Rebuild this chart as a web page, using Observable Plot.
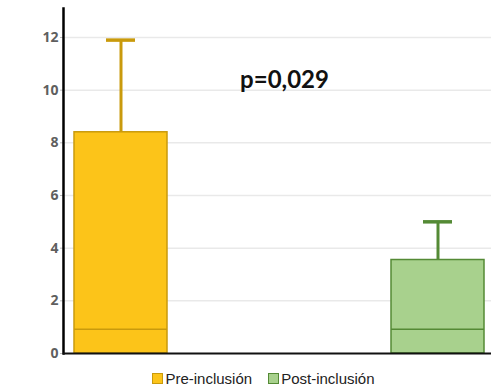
<!DOCTYPE html>
<html>
<head>
<meta charset="utf-8">
<script src="https://cdn.jsdelivr.net/npm/d3@7"></script>
<script src="https://cdn.jsdelivr.net/npm/@observablehq/plot@0.6"></script>
<style>
  html, body { margin: 0; padding: 0; background: #fff; }
  #chart { width: 491px; }
  .legend { display: flex; justify-content: center; gap: 16px; font-family: "Liberation Sans", Arial, sans-serif; font-size: 15px; color: #222; height: 18px; line-height: 18px; margin-left: 36px; }
  .legend span.sw { display: inline-block; width: 9px; height: 9px; margin-right: 2px; vertical-align: 0px; }
</style>
</head>
<body>
<div id="chart"></div>
<script>
const categories = ["Pre-inclusión", "Post-inclusión"];
const upperQuartile = [8.4, 3.55];
const whiskerMax = [11.9, 5.0];
const median = [0.92, 0.92];
const fills = ["#FCC419", "#A8D18D"];
const strokes = ["#C99A0C", "#548A35"];
const yTicks = [0, 2, 4, 6, 8, 10, 12];
const annotation = "p=0,029";

const data = categories.map((c, i) => ({cat: c, q3: upperQuartile[i], max: whiskerMax[i], med: median[i], fill: fills[i], stroke: strokes[i]}));

const plot = Plot.plot({
  width: 491,
  height: 370,
  marginLeft: 63,
  marginRight: 0,
  marginTop: 8,
  marginBottom: 17,
  style: {fontFamily: "'Open Sans', sans-serif", background: "#fff"},
  x: {domain: categories, paddingInner: 0.706, paddingOuter: 0.026, align: 0.6, axis: null},
  y: {domain: [0, 13.1], ticks: yTicks, grid: false},
  marks: [
    Plot.gridY(yTicks.filter(d => d > 0), {stroke: "#e9e9e9", strokeOpacity: 1, strokeWidth: 1.5}),
    Plot.axisY(yTicks, {tickSize: 3, tickPadding: 2, fontSize: 14, fontWeight: "bold", fill: "#5f5f5f", stroke: "#bbb"}),
    Plot.ruleX(data, {x: "cat", y1: "q3", y2: "max", stroke: "stroke", strokeWidth: 3}),
    Plot.tickY(data, {x: "cat", y: "max", stroke: "stroke", strokeWidth: 3.5, insetLeft: 32, insetRight: 32}),
    Plot.barY(data, {x: "cat", y1: 0, y2: "q3", fill: "fill", stroke: "stroke", strokeWidth: 1.5}),
    Plot.tickY(data, {x: "cat", y: "med", stroke: "stroke", strokeWidth: 1.5}),
    Plot.frame({anchor: "left", stroke: "#000", strokeWidth: 2.5}),
    Plot.ruleY([0], {stroke: "#111", strokeWidth: 2}),
    Plot.text([annotation], {frameAnchor: "top", dx: 7, dy: 62, fontSize: 24, fontWeight: "bold", fill: "#111", fontFamily: "Lato, 'Open Sans', sans-serif"})
  ]
});
document.getElementById("chart").appendChild(plot);

const legend = document.createElement("div");
legend.className = "legend";
categories.forEach((c, i) => {
  const item = document.createElement("div");
  const sw = document.createElement("span");
  sw.className = "sw";
  sw.style.background = fills[i];
  sw.style.border = "1px solid " + strokes[i];
  item.appendChild(sw);
  item.appendChild(document.createTextNode(c));
  legend.appendChild(item);
});
document.getElementById("chart").appendChild(legend);
</script>
</body>
</html>
